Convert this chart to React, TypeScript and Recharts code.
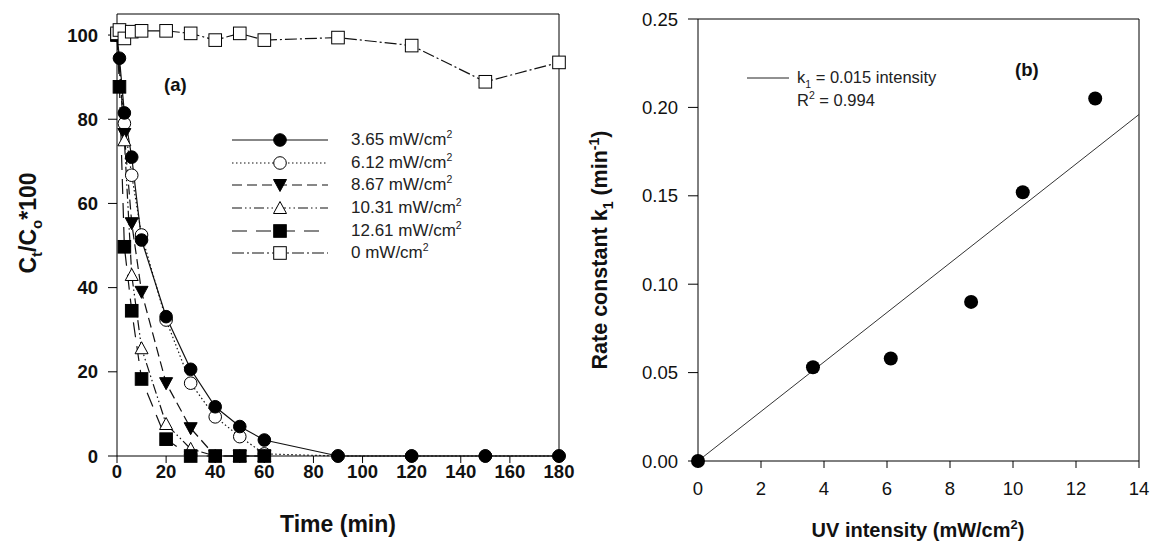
import React from "react";
import {
  ComposedChart,
  Line,
  LineChart,
  ReferenceLine,
  Scatter,
  XAxis,
  YAxis,
} from "recharts";

// panel (a): Ct/Co*100 against time for each UV intensity
const t365 = [0, 1, 3, 6, 10, 20, 30, 40, 50, 60, 90, 120, 150, 180];
const c365 = [100, 94.5, 81.5, 71, 51.3, 33.1, 20.6, 11.7, 7.0, 3.8, 0, 0, 0, 0];
const t612 = [0, 3, 6, 10, 20, 30, 40, 50, 60, 90, 120, 150, 180];
const c612 = [100, 79, 66.7, 52.5, 32.3, 17.3, 9.3, 4.6, 0.5, 0, 0, 0, 0];
const t867 = [0, 3, 6, 10, 20, 30, 40, 50, 60];
const c867 = [100, 76.5, 55.3, 39, 17.3, 6.6, 0, 0, 0];
const t1031 = [0, 3, 6, 10, 20, 30, 40, 50, 60];
const c1031 = [100, 75, 43, 25.6, 7.6, 1.7, 0, 0, 0];
const t1261 = [0, 1, 3, 6, 10, 20, 30, 40, 50, 60];
const c1261 = [100, 87.7, 49.7, 34.5, 18.3, 4, 0, 0, 0, 0];
const t0 = [0, 1, 3, 6, 10, 20, 30, 40, 50, 60, 90, 120, 150, 180];
const c0 = [100.4, 101.2, 99.2, 100.8, 101, 101, 100.4, 98.8, 100.4, 98.8, 99.4, 97.5, 88.9, 93.5];

const timeTicks = [0, 20, 40, 60, 80, 100, 120, 140, 160, 180];
const ratioTicks = [0, 20, 40, 60, 80, 100];

// panel (b): rate constant against intensity
const intensity = [0, 3.65, 6.12, 8.67, 10.31, 12.61];
const rateK = [0, 0.053, 0.058, 0.09, 0.152, 0.205];
const fitX = [0, 14];
const fitY = [0, 0.196];
const intensityTicks = [0, 2, 4, 6, 8, 10, 12, 14];
const rateTicks = [0, 0.05, 0.1, 0.15, 0.2, 0.25];

const zip = (xs: number[], ys: number[]) => xs.map((x, i) => ({ x, y: ys[i] }));

const FONT = "'Liberation Sans', Arial, sans-serif";
const INK = "#111";

type Shape = "circle" | "triangleDown" | "triangleUp" | "square";

const Marker = ({ shape, filled, cx, cy }: { shape: Shape; filled: boolean; cx: number; cy: number }) => {
  const fill = filled ? "#000" : "#fff";
  const s = 6.3;
  if (shape === "circle") return <circle cx={cx} cy={cy} r={s} fill={fill} stroke="#000" strokeWidth={1} />;
  if (shape === "square")
    return <rect x={cx - s} y={cy - s} width={2 * s} height={2 * s} fill={fill} stroke="#000" strokeWidth={1} />;
  if (shape === "triangleDown")
    return (
      <polygon
        points={`${cx - 6.5},${cy - 5.5} ${cx + 6.5},${cy - 5.5} ${cx},${cy + 6.5}`}
        fill={fill}
        stroke="#000"
        strokeWidth={1}
      />
    );
  return (
    <polygon
      points={`${cx - 6.5},${cy + 5.5} ${cx + 6.5},${cy + 5.5} ${cx},${cy - 6.5}`}
      fill={fill}
      stroke="#000"
      strokeWidth={1}
    />
  );
};

const dotFor = (shape: Shape, filled: boolean) => (props: any) => {
  const { cx, cy, index } = props;
  if (cx == null || cy == null) return <g key={`d${index}`} />;
  return (
    <g key={`d${index}`}>
      <Marker shape={shape} filled={filled} cx={cx} cy={cy} />
    </g>
  );
};

// drawing order: the 0 mW/cm2 control sits on top at t=0
const series = [
  { name: "6.12 mW/cm", data: zip(t612, c612), shape: "circle" as Shape, filled: false, dash: "1.5 2.5" },
  { name: "3.65 mW/cm", data: zip(t365, c365), shape: "circle" as Shape, filled: true, dash: undefined },
  { name: "8.67 mW/cm", data: zip(t867, c867), shape: "triangleDown" as Shape, filled: true, dash: "10 5" },
  { name: "10.31 mW/cm", data: zip(t1031, c1031), shape: "triangleUp" as Shape, filled: false, dash: "10 3 1.5 3 1.5 3" },
  { name: "12.61 mW/cm", data: zip(t1261, c1261), shape: "square" as Shape, filled: true, dash: "15 9" },
  { name: "0 mW/cm", data: zip(t0, c0), shape: "square" as Shape, filled: false, dash: "12 3 2 3" },
];

const legendOrder = ["3.65 mW/cm", "6.12 mW/cm", "8.67 mW/cm", "10.31 mW/cm", "12.61 mW/cm", "0 mW/cm"];

const boldTick = { fill: INK, fontSize: 18.5, fontWeight: 700, fontFamily: FONT };
const plainTick = { fill: INK, fontSize: 18.5, fontFamily: FONT };

const PanelA = () => (
  <LineChart width={580} height={552} margin={{ top: 14, right: 21, left: 0, bottom: 46 }}>
    <XAxis
      type="number"
      dataKey="x"
      domain={[0, 180]}
      ticks={timeTicks}
      allowDuplicatedCategory={false}
      height={50}
      tickSize={7}
      tickMargin={2}
      stroke="#000"
      tick={boldTick}
    />
    <YAxis
      type="number"
      domain={[0, 105]}
      ticks={ratioTicks}
      width={117}
      tickSize={9}
      tickMargin={10}
      stroke="#000"
      tick={boldTick}
    />
    <ReferenceLine y={105} stroke="#000" />
    <ReferenceLine x={180} stroke="#000" />
    {series.map((s) => (
      <Line
        key={s.name}
        data={s.data}
        dataKey="y"
        type="linear"
        stroke="#111"
        strokeWidth={1.2}
        strokeDasharray={s.dash}
        dot={dotFor(s.shape, s.filled)}
        activeDot={false}
        isAnimationActive={false}
      />
    ))}
  </LineChart>
);

const PanelB = () => (
  <ComposedChart width={575} height={552} margin={{ top: 19, right: 16, left: 0, bottom: 41 }}>
    <XAxis
      type="number"
      dataKey="x"
      domain={[0, 14]}
      ticks={intensityTicks}
      height={50}
      tickSize={7}
      tickMargin={14}
      stroke="#000"
      tick={plainTick}
    />
    <YAxis
      type="number"
      dataKey="y"
      domain={[0, 0.25]}
      ticks={rateTicks}
      width={118}
      tickSize={10}
      tickMargin={10}
      stroke="#000"
      tick={plainTick}
      tickFormatter={(v: number) => v.toFixed(2)}
    />
    <ReferenceLine y={0.25} stroke="#000" />
    <ReferenceLine x={14} stroke="#000" />
    <Line
      data={zip(fitX, fitY)}
      dataKey="y"
      type="linear"
      stroke="#333"
      strokeWidth={1}
      dot={false}
      activeDot={false}
      isAnimationActive={false}
    />
    <Scatter
      data={zip(intensity, rateK)}
      dataKey="y"
      fill="#000"
      isAnimationActive={false}
      shape={(p: any) => <circle cx={p.cx} cy={p.cy} r={7} fill="#000" />}
    />
  </ComposedChart>
);

const abs = (left: number, top: number, extra: React.CSSProperties = {}): React.CSSProperties => ({
  position: "absolute",
  left,
  top,
  fontFamily: FONT,
  color: INK,
  whiteSpace: "nowrap",
  ...extra,
});

const Sup = ({ children, size, lift }: { children: React.ReactNode; size: number; lift: number }) => (
  <span style={{ fontSize: size, position: "relative", top: -lift, lineHeight: 0 }}>{children}</span>
);

const Legend = () => (
  <div style={abs(232, 129)}>
    {legendOrder.map((name) => {
      const s = series.find((q) => q.name === name)!;
      return (
        <div key={name} style={{ display: "flex", alignItems: "center", height: 22.6 }}>
          <svg width={96} height={16}>
            <line x1={0} y1={8} x2={96} y2={8} stroke="#111" strokeWidth={1.2} strokeDasharray={s.dash} />
            <Marker shape={s.shape} filled={s.filled} cx={48} cy={8} />
          </svg>
          <span style={{ marginLeft: 23, fontSize: 17, color: "#222", lineHeight: "18px" }}>
            {name}
            <Sup size={10.5} lift={7}>
              2
            </Sup>
          </span>
        </div>
      );
    })}
  </div>
);

export default function App() {
  return (
    <div style={{ position: "absolute", left: 0, top: 0, width: 1155, height: 552, background: "#fff" }}>
      <div style={{ position: "absolute", left: 0, top: 0 }}>
        <PanelA />
      </div>
      <div style={{ position: "absolute", left: 580, top: 0 }}>
        <PanelB />
      </div>
      <Legend />
      <div style={abs(164, 74, { fontSize: 18.5, fontWeight: 700 })}>(a)</div>
      <div style={abs(1015, 59, { fontSize: 18.5, fontWeight: 700 })}>(b)</div>
      <div style={abs(747, 66, { fontSize: 16.5, color: "#222", lineHeight: "23px" })}>
        <div style={{ display: "flex", alignItems: "center", height: 23 }}>
          <svg width={42} height={10}>
            <line x1={0} y1={5} x2={42} y2={5} stroke="#222" strokeWidth={1} />
          </svg>
          <span style={{ marginLeft: 8 }}>
            k<Sup size={10.5} lift={-5}>1</Sup> = 0.015 intensity
          </span>
        </div>
        <div style={{ marginLeft: 50, height: 23 }}>
          R<Sup size={10.5} lift={7}>2</Sup> = 0.994
        </div>
      </div>
      <div style={abs(338, 524, { fontSize: 23, fontWeight: 700, transform: "translate(-50%, -50%)" })}>
        Time (min)
      </div>
      <div style={abs(918, 530, { fontSize: 20, fontWeight: 700, transform: "translate(-50%, -50%)" })}>
        UV intensity (mW/cm<Sup size={13} lift={8}>2</Sup>)
      </div>
      <div
        style={abs(28, 223, { fontSize: 23, fontWeight: 700, transform: "translate(-50%, -50%) rotate(-90deg)" })}
      >
        C<Sup size={15} lift={-6}>t</Sup>/C<Sup size={15} lift={-6}>o</Sup>*100
      </div>
      <div
        style={abs(600, 250, { fontSize: 21.5, fontWeight: 700, transform: "translate(-50%, -50%) rotate(-90deg)" })}
      >
        Rate constant k<Sup size={14} lift={-6}>1</Sup> (min<Sup size={14} lift={8}>-1</Sup>)
      </div>
    </div>
  );
}
